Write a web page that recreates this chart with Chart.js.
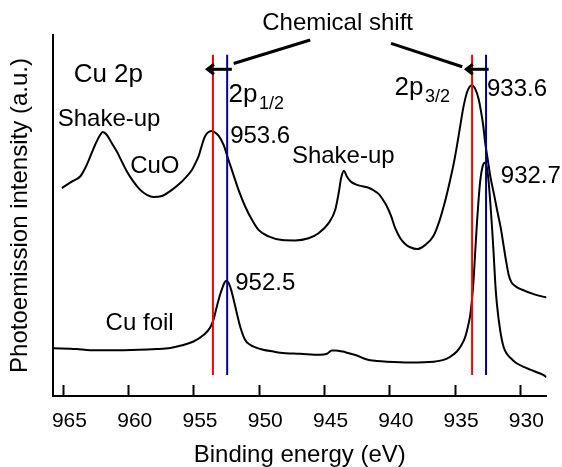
<!DOCTYPE html>
<html><head><meta charset="utf-8">
<script src="https://cdn.jsdelivr.net/npm/chart.js@4.4.1/dist/chart.umd.min.js"></script>
<style>html,body{margin:0;padding:0;background:#fff}</style>
</head><body>
<canvas id="c" width="562" height="467"></canvas>
<script>
const tickLabels = [965, 960, 955, 950, 945, 940, 935, 930];

const cuoEnergy = [965.12,964.36,963.72,963.34,962.95,962.57,962.19,961.98,961.67,961.29,960.91,960.52,960.14,959.64,959.12,958.61,958.10,957.46,956.69,955.93,955.16,954.89,954.66,954.45,954.27,954.10,953.85,953.63,953.40,953.12,952.74,952.36,951.97,951.59,951.08,950.56,950.06,949.29,948.26,947.25,946.23,945.46,944.69,944.18,943.93,943.72,943.52,943.30,943.00,942.52,942.10,941.63,941.25,940.86,940.55,940.22,939.90,939.58,939.20,938.85,938.43,937.92,937.30,936.65,936.20,935.80,935.40,935.10,934.85,934.60,934.35,934.10,933.90,933.70,933.45,933.20,933.00,932.85,932.69,932.50,932.30,932.00,931.79,931.50,931.28,931.10,930.90,930.70,930.45,930.10,929.70,929.20,928.60,928.00];
const cuoIntensity = [57.6,59.4,60.8,63.1,66.3,69.6,72.3,73.1,72.3,70.0,67.7,64.9,62.2,59.4,57.1,55.7,55.1,55.4,57.1,59.4,62.6,64.5,66.3,68.8,70.9,72.3,73.2,73.4,73.0,72.1,69.6,65.4,61.2,57.1,52.5,48.8,46.0,44.2,43.2,43.1,43.7,45.1,47.9,51.6,56.0,60.5,62.4,60.9,59.4,58.5,58.1,57.7,57.0,56.0,54.5,52.5,49.8,46.4,43.7,42.2,41.2,40.7,41.8,44.4,48.5,53.5,59.5,64.5,69.5,75.0,80.3,84.0,85.6,86.1,85.0,82.3,78.5,75.0,70.0,65.5,60.8,55.5,51.6,46.5,41.5,37.5,33.6,31.6,30.6,29.8,29.2,28.5,27.8,27.3];

const foilEnergy = [965.77,964.00,962.95,960.40,957.84,956.80,956.06,955.04,954.27,953.76,953.51,953.25,953.05,952.86,952.65,952.50,952.35,952.23,952.05,951.84,951.46,951.08,950.70,950.44,949.70,948.91,948.40,946.86,945.33,944.82,944.44,944.20,943.60,943.28,942.52,941.75,941.00,940.22,938.43,936.65,935.88,935.40,934.85,934.50,934.22,933.97,933.84,933.70,933.58,933.45,933.32,933.20,933.07,932.90,932.74,932.58,932.45,932.30,932.15,932.05,931.92,931.80,931.54,931.28,931.00,930.60,930.26,929.70,929.24,928.70,928.22,928.00];
const foilIntensity = [13.2,13.0,12.7,12.7,13.0,13.3,13.9,15.1,16.9,19.0,21.1,24.8,27.5,29.6,31.5,31.9,31.3,30.3,28.0,24.8,19.2,15.5,14.2,13.7,12.8,12.3,12.0,11.7,11.4,11.7,12.6,12.6,12.3,12.0,11.2,10.1,9.7,9.5,9.3,9.5,10.0,10.8,12.4,14.2,16.4,20.0,22.5,27.0,32.5,40.5,48.3,54.5,59.8,63.5,64.6,63.6,60.0,53.4,45.5,39.6,31.0,25.5,18.0,13.5,11.5,10.0,9.0,8.0,7.3,6.5,5.8,5.2];

const redLines = [953.55, 933.7];
const blueLines = [952.46, 932.63];
const lineSpan = [5.8, 94.5];

const FONT = "'Liberation Sans', Arial, sans-serif";

const notes = [
  {text:'Chemical shift', x:944.0, y:101.4, size:24, align:'center'},
  {text:'Cu 2p', x:964.22, y:87.0, size:26},
  {text:'2p', sub:'1/2', subDrop:7.6, x:952.35, y:81.5, size:26},
  {text:'2p', sub:'3/2', subDrop:6.7, x:939.64, y:83.4, size:26},
  {text:'933.6', x:932.56, y:83.1, size:24},
  {text:'953.6', x:952.23, y:70.0, size:24},
  {text:'Shake-up', x:965.44, y:74.8, size:24},
  {text:'CuO', x:959.89, y:61.9, size:24},
  {text:'Shake-up', x:947.5, y:64.5, size:24},
  {text:'932.7', x:931.5, y:58.9, size:24},
  {text:'952.5', x:951.84, y:29.4, size:24},
  {text:'Cu foil', x:961.77, y:18.3, size:24}
];
const slants = [
  [946.1, 98.6, 951.96, 92.1],
  [939.91, 97.7, 934.45, 91.2]
];
const arrows = [
  [952.1, 953.97, 90.5],
  [932.43, 934.14, 90.5]
];

const notesPlugin = {
  id: 'notes',
  afterDatasetsDraw(chart) {
    const {ctx, scales: {x, y}} = chart;
    ctx.save();
    ctx.fillStyle = '#000';
    ctx.strokeStyle = '#000';
    ctx.lineWidth = 3;
    for (const s of slants) {
      ctx.beginPath();
      ctx.moveTo(x.getPixelForValue(s[0]), y.getPixelForValue(s[1]));
      ctx.lineTo(x.getPixelForValue(s[2]), y.getPixelForValue(s[3]));
      ctx.stroke();
    }
    for (const a of arrows) {
      const x0 = x.getPixelForValue(a[0]), x1 = x.getPixelForValue(a[1]), yy = y.getPixelForValue(a[2]);
      ctx.beginPath(); ctx.moveTo(x0, yy); ctx.lineTo(x1 + 1, yy); ctx.stroke();
      ctx.beginPath(); ctx.moveTo(x1 + 6.5, yy - 5); ctx.lineTo(x1, yy); ctx.lineTo(x1 + 6.5, yy + 5); ctx.stroke();
    }
    ctx.textBaseline = 'alphabetic';
    for (const n of notes) {
      ctx.font = n.size + 'px ' + FONT;
      ctx.textAlign = n.align || 'left';
      const px = x.getPixelForValue(n.x), py = y.getPixelForValue(n.y);
      ctx.fillText(n.text, px, py);
      if (n.sub) {
        const w = ctx.measureText(n.text).width;
        ctx.font = '18px ' + FONT;
        ctx.textAlign = 'left';
        ctx.fillText(n.sub, px + w + 1.5, py + n.subDrop);
      }
    }
    ctx.restore();
  }
};

const vline = (e, color) => ({
  data: [{x: e, y: lineSpan[0]}, {x: e, y: lineSpan[1]}],
  borderColor: color, borderWidth: 2, pointRadius: 0, fill: false
});

const curve = (es, vs) => ({
  data: es.map((e, i) => ({x: e, y: vs[i]})),
  borderColor: '#000', borderWidth: 2, pointRadius: 0, fill: false,
  cubicInterpolationMode: 'monotone'
});

new Chart(document.getElementById('c'), {
  type: 'line',
  data: {
    datasets: [
      ...redLines.map(e => vline(e, '#ff0000')),
      ...blueLines.map(e => vline(e, '#0000a0')),
      curve(cuoEnergy, cuoIntensity),
      curve(foilEnergy, foilIntensity)
    ]
  },
  options: {
    responsive: false,
    animation: false,
    layout: {padding: {top: 35, right: 15.5, left: 0, bottom: 0}},
    plugins: {legend: {display: false}, tooltip: {enabled: false}},
    elements: {point: {radius: 0}},
    scales: {
      x: {
        type: 'linear', reverse: true, min: 928, max: 965.8,
        afterBuildTicks: s => { s.ticks = tickLabels.map(v => ({value: v})); },
        afterFit: s => { s.height = 71; s.paddingLeft = 0; s.paddingRight = 0; },
        grid: {display: true, drawOnChartArea: false, drawTicks: true, tickLength: -11, tickWidth: 2, tickColor: '#000'},
        border: {display: true, color: '#000', width: 2},
        ticks: {color: '#000', font: {family: FONT, size: 21}, padding: 24, labelOffset: 6, maxRotation: 0, autoSkip: false,
          callback: v => String(v)},
        title: {display: true, text: 'Binding energy (eV)', color: '#000', font: {family: FONT, size: 24, lineHeight: 1}, padding: {top: 0, bottom: 0}}
      },
      y: {
        min: 0, max: 100,
        afterFit: s => { s.width = 53; },
        grid: {display: false},
        ticks: {display: false},
        border: {display: true, color: '#000', width: 2},
        title: {display: true, text: 'Photoemission intensity (a.u.)', color: '#000', font: {family: FONT, size: 24, lineHeight: 1}, padding: {top: 8.5, bottom: 0}}
      }
    }
  },
  plugins: [notesPlugin]
});
</script>
</body></html>
